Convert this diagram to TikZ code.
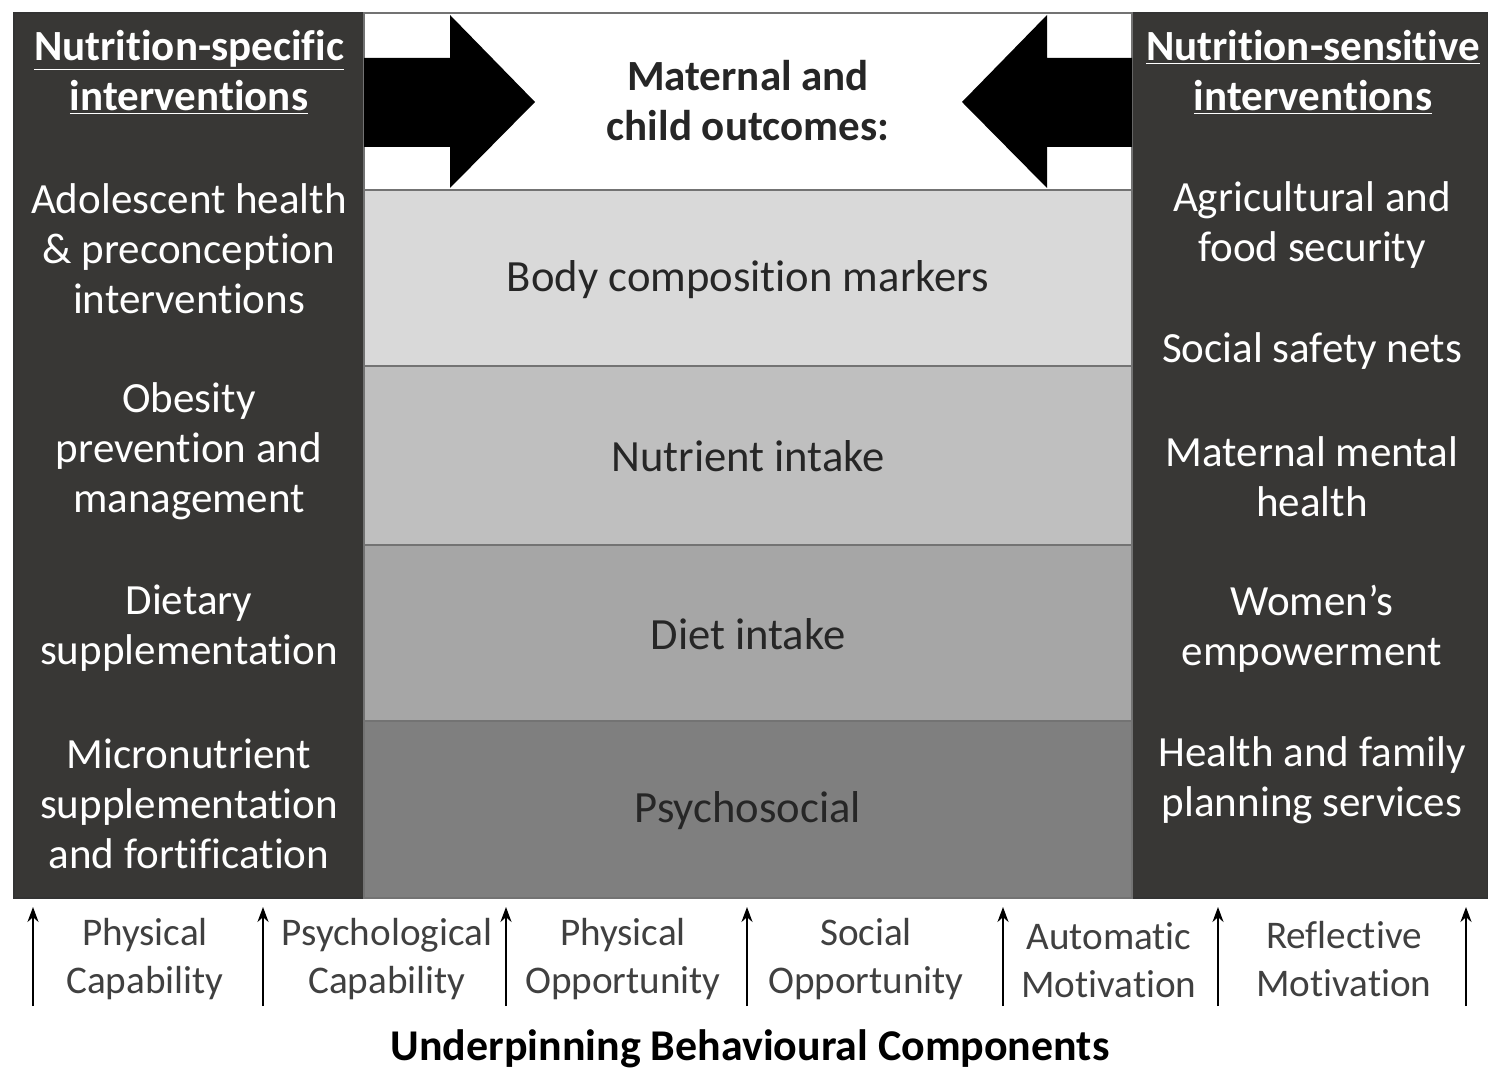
\documentclass[tikz,border=0pt]{standalone}
\usepackage{fontspec}
\setmainfont{Carlito}[Ligatures=NoCommon]
\usetikzlibrary{arrows.meta}
\definecolor{panelgray}{HTML}{383735}
\definecolor{bandA}{HTML}{D9D9D9}
\definecolor{bandB}{HTML}{BFBFBF}
\definecolor{bandC}{HTML}{A6A6A6}
\definecolor{bandD}{HTML}{7F7F7F}
\tikzset{
  panel/.style={fill=panelgray,draw=black!80,line width=0.6pt},
  band/.style={draw=black!55,line width=0.8pt},
  paneltext/.style={text=white,align=center,font=\fontsize{24.5}{28.5}\selectfont},
  headtext/.style={paneltext,font=\fontsize{24.5}{28.5}\selectfont\bfseries},
  bandtext/.style={text=black!85,align=center,font=\fontsize{25.4}{29.5}\selectfont},
  comptext/.style={text=black!75,align=center,font=\fontsize{22.3}{27.3}\selectfont},
  uparrow/.style={-{Stealth[length=0.3cm,width=0.22cm]},line width=1.3pt}
}
\begin{document}
\begin{tikzpicture}[x=0.02cm,y=-0.02cm]
\useasboundingbox (0,0) rectangle (1488,1070);
% side panels
\draw[panel] (14,13) rectangle (364,898);
\draw[panel] (1132,13) rectangle (1488,898);
% middle bands
\draw[band,fill=white] (364,13) rectangle (1132,190);
\draw[band,fill=bandA] (364,190) rectangle (1132,366);
\draw[band,fill=bandB] (364,366) rectangle (1132,545);
\draw[band,fill=bandC] (364,545) rectangle (1132,721);
\draw[band,fill=bandD] (364,721) rectangle (1132,898);
% big arrows into the outcomes
\fill[black] (364,58) -- (450,58) -- (450,15) -- (535,102) -- (450,188) -- (450,147) -- (364,147) -- cycle;
\fill[black] (1132,58) -- (1047,58) -- (1047,15) -- (962,102) -- (1047,188) -- (1047,147) -- (1132,147) -- cycle;
\node[bandtext,font=\fontsize{24.5}{28.5}\selectfont\bfseries] (outcomes) at (748,101) {Maternal and\\child outcomes:};
\node[bandtext] (body) at (748,280) {Body composition markers};
\node[bandtext] (nutrient) at (748,456) {Nutrient intake};
\node[bandtext] (diet) at (748,634) {Diet intake};
\node[bandtext] (psycho) at (748,811) {Psychosocial};
% left panel
\node[headtext] (spechead) at (189,72) {\underline{Nutrition-specific}\\\underline{interventions}};
\node[paneltext] (adol) at (189,249) {Adolescent health\\\& preconception\\interventions};
\node[paneltext] (obes) at (189,451) {Obesity\\prevention and\\management};
\node[paneltext] (dsup) at (189,628) {Dietary\\supplementation};
\node[paneltext] (micro) at (189,804) {Micronutrient\\supplementation\\and fortification};
% right panel
\node[headtext] (senshead) at (1313,72) {\underline{Nutrition-sensitive}\\\underline{interventions}};
\node[paneltext] (agri) at (1312,225) {Agricultural and\\food security};
\node[paneltext] (safety) at (1312,351) {Social safety nets};
\node[paneltext] (mental) at (1312,477) {Maternal mental\\health};
\node[paneltext] (women) at (1312,629) {Women’s\\empowerment};
\node[paneltext] (family) at (1312,780) {Health and family\\planning services};
% behavioural components
\foreach \x [count=\i] in {33,263,506,747,1003,1218,1466}{
  \coordinate (foot\i) at (\x,1006);
  \coordinate (tip\i) at (\x,907);
  \draw[uparrow] (foot\i) -- (tip\i);
}
\node[comptext] (physcap) at (145,959) {Physical\\Capability};
\node[comptext] (psycap) at (387,959) {Psychological\\Capability};
\node[comptext] (physopp) at (623,959) {Physical\\Opportunity};
\node[comptext] (socopp) at (866,959) {Social\\Opportunity};
\node[comptext] (automot) at (1109,960) {Automatic\\Motivation};
\node[comptext] (reflmot) at (1344,959) {Reflective\\Motivation};
\node[font=\fontsize{25}{29}\selectfont\bfseries] (under) at (750,1049) {Underpinning Behavioural Components};
\end{tikzpicture}
\end{document}
